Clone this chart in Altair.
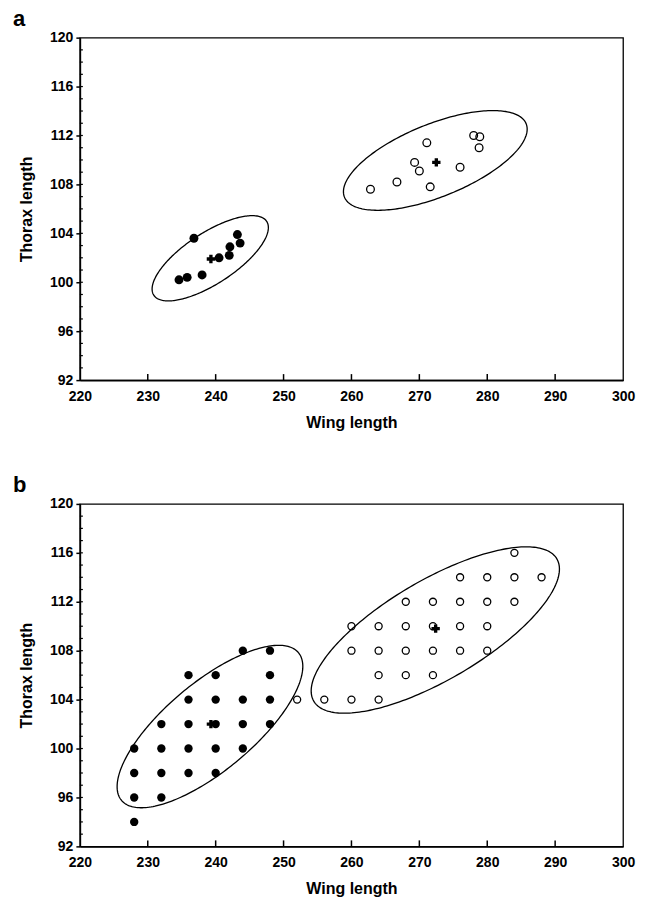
import altair as alt
import numpy as np
import pandas as pd

# ---------------- data ----------------
# Panel a
a_filled_x = [236.8, 243.2, 243.6, 242.1, 242.0, 240.5, 238.0, 235.8, 234.6]
a_filled_y = [103.6, 103.9, 103.2, 102.9, 102.2, 102.0, 100.6, 100.4, 100.2]
a_open_x = [278.0, 278.9, 278.8, 271.1, 269.3, 270.0, 276.0, 271.6, 266.7, 262.8]
a_open_y = [112.0, 111.9, 111.0, 111.4, 109.8, 109.1, 109.4, 107.8, 108.2, 107.6]
a_mean_x = [239.3, 272.5]
a_mean_y = [101.9, 109.8]
# ellipse: centre x, centre y, major semi-axis vector (dx, dy), minor semi-axis vector (dx, dy)
a_ellipses = [
    (239.2, 101.96, 8.31, 3.02, -2.06, 1.74),
    (272.35, 109.96, 13.38, 3.00, -2.01, 2.76),
]

# Panel b
b_filled_x = [244, 248,
              236, 240, 248,
              236, 240, 244, 248,
              232, 236, 240, 244, 248,
              228, 232, 236, 240, 244,
              228, 232, 236, 240,
              228, 232,
              228]
b_filled_y = [108, 108,
              106, 106, 106,
              104, 104, 104, 104,
              102, 102, 102, 102, 102,
              100, 100, 100, 100, 100,
              98, 98, 98, 98,
              96, 96,
              94]
b_open_x = [284,
            276, 280, 284, 288,
            268, 272, 276, 280, 284,
            260, 264, 268, 272, 276, 280,
            260, 264, 268, 272, 276, 280,
            264, 268, 272,
            252, 256, 260, 264]
b_open_y = [116,
            114, 114, 114, 114,
            112, 112, 112, 112, 112,
            110, 110, 110, 110, 110, 110,
            108, 108, 108, 108, 108, 108,
            106, 106, 106,
            104, 104, 104, 104]
b_mean_x = [239.3, 272.4]
b_mean_y = [102.0, 109.8]
b_ellipses = [
    (239.16, 101.8, 13.03, 6.04, -4.15, 2.76),
    (272.35, 109.69, 17.9, 5.82, -3.72, 3.52),
]

x_ticks = [220, 230, 240, 250, 260, 270, 280, 290, 300]
x_inner_ticks = [230, 240, 250, 260, 270, 280, 290]
y_ticks = [92, 96, 100, 104, 108, 112, 116, 120]
y_minor = list(range(93, 120))

W, H = 544, 343
FONT = "Liberation Sans"


def ellipse_df(params, n=241):
    t = np.linspace(0, 2 * np.pi, n)
    frames = []
    for i, (cx, cy, ux, uy, vx, vy) in enumerate(params):
        frames.append(pd.DataFrame({
            "x": cx + ux * np.cos(t) + vx * np.sin(t),
            "y": cy + uy * np.cos(t) + vy * np.sin(t),
            "g": i,
            "o": np.arange(n),
        }))
    return pd.concat(frames, ignore_index=True)


xscale = alt.Scale(domain=[220, 300], nice=False, zero=False)
yscale = alt.Scale(domain=[92, 120], nice=False, zero=False)
xaxis = alt.Axis(values=x_ticks, title="Wing length", grid=False, ticks=False,
                 tickSize=0, labelPadding=9, titlePadding=11, format="d",
                 labelFlush=False)
yaxis = alt.Axis(values=y_ticks, title="Thorax length", grid=False, tickSize=4,
                 labelPadding=3, titlePadding=15, format="d")


def X(f):
    return alt.X(f, type="quantitative", scale=xscale, axis=xaxis)


def Y(f):
    return alt.Y(f, type="quantitative", scale=yscale, axis=yaxis)


def panel(label, fx, fy, ox, oy, mx, my, ells, fsize, osize):
    ell = alt.Chart(ellipse_df(ells)).mark_line(color="black", strokeWidth=1.3).encode(
        x=X("x"), y=Y("y"), detail="g:N", order="o:Q")
    opn = alt.Chart(pd.DataFrame({"x": ox, "y": oy})).mark_point(
        shape="circle", filled=False, color="black", strokeWidth=1.3, size=osize, opacity=1
    ).encode(x=X("x"), y=Y("y"))
    fil = alt.Chart(pd.DataFrame({"x": fx, "y": fy})).mark_circle(
        color="black", size=fsize, opacity=1
    ).encode(x=X("x"), y=Y("y"))
    mean = alt.Chart(pd.DataFrame({"x": mx, "y": my})).mark_point(
        shape="cross", filled=True, color="black", size=70, opacity=1
    ).encode(x=X("x"), y=Y("y"))
    xt = alt.Chart(pd.DataFrame({"x": x_inner_ticks})).mark_rule(
        color="black", strokeWidth=1.5
    ).encode(x=X("x"), y=alt.value(H), y2=alt.value(H - 6))
    yt = alt.Chart(pd.DataFrame({"y": y_minor})).mark_rule(
        color="black", strokeWidth=1.2
    ).encode(y=Y("y"), x=alt.value(0), x2=alt.value(3))
    return alt.layer(ell, xt, yt, opn, fil, mean).properties(
        width=W, height=H,
        title=alt.TitleParams(label, anchor="start", frame="group", fontSize=22,
                              font=FONT, fontWeight="bold", color="black",
                              dx=-67, dy=28, offset=6, baseline="bottom"),
    )


pa = panel("a", a_filled_x, a_filled_y, a_open_x, a_open_y, a_mean_x, a_mean_y,
           a_ellipses, 80, 60)
pb = panel("b", b_filled_x, b_filled_y, b_open_x, b_open_y, b_mean_x, b_mean_y,
           b_ellipses, 70, 50)

chart = alt.vconcat(pa, pb, spacing=42).properties(
    padding={"left": 12, "top": 6, "right": 10, "bottom": 0}
).configure_view(
    stroke="black", strokeWidth=1.3
).configure_axis(
    labelFont=FONT, labelFontSize=14, labelFontWeight="bold", labelColor="black",
    titleFont=FONT, titleFontSize=16, titleFontWeight="bold", titleColor="black",
    domainColor="black", domainWidth=1.6, tickColor="black", tickWidth=1.5,
)

chart.save("out.html", embed_options={"renderer": "svg", "actions": False})
